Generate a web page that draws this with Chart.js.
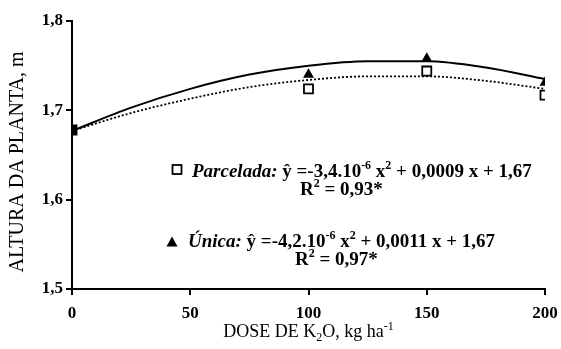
<!DOCTYPE html>
<html>
<head>
<meta charset="utf-8">
<script src="https://cdn.jsdelivr.net/npm/chart.js@4.4.1/dist/chart.umd.min.js"></script>
<style>
  html, body { margin: 0; padding: 0; background: #fff; }
</style>
</head>
<body>
<canvas id="chart" width="561" height="349"></canvas>
<script>
// observed means
const doses = [0, 100, 150, 200];
const parcelada = [1.678, 1.724, 1.744, 1.717];
const unica = [1.678, 1.740, 1.758, 1.731];

// regression curves
const fitDoses = [0, 25, 50, 75, 100, 125, 150, 175, 200];
const fitParcelada = [1.677, 1.697, 1.713, 1.726, 1.734, 1.738, 1.738, 1.733, 1.724];
const fitUnica = [1.677, 1.703, 1.724, 1.740, 1.750, 1.755, 1.755, 1.748, 1.735];

const xTicks = [0, 50, 100, 150, 200];
const yTicks = [1.5, 1.6, 1.7, 1.8];

const SERIF = '"Liberation Serif", "Times New Roman", serif';

const toXY = (xs, ys) => xs.map((x, i) => ({ x, y: ys[i] }));

// text runs: s = font style, sup/sub = small raised/lowered
const eqParcelada = [
  { t: 'Parcelada:', s: 'italic bold' },
  { t: ' ŷ =-3,4.10', s: 'bold' }, { t: '-6', s: 'bold', sup: true },
  { t: ' x', s: 'bold' }, { t: '2', s: 'bold', sup: true },
  { t: ' + 0,0009 x + 1,67', s: 'bold' }
];
const r2Parcelada = [
  { t: 'R', s: 'bold' }, { t: '2', s: 'bold', sup: true }, { t: ' = 0,93*', s: 'bold' }
];
const eqUnica = [
  { t: 'Única:', s: 'italic bold' },
  { t: ' ŷ =-4,2.10', s: 'bold' }, { t: '-6', s: 'bold', sup: true },
  { t: ' x', s: 'bold' }, { t: '2', s: 'bold', sup: true },
  { t: ' + 0,0011 x + 1,67', s: 'bold' }
];
const r2Unica = [
  { t: 'R', s: 'bold' }, { t: '2', s: 'bold', sup: true }, { t: ' = 0,97*', s: 'bold' }
];
const xTitle = [
  { t: 'DOSE DE K', s: '' }, { t: '2', s: '', sub: true },
  { t: 'O, kg ha', s: '' }, { t: '-1', s: '', sup: true }
];
const yTitle = 'ALTURA DA PLANTA, m';

function runsWidth(ctx, runs, size) {
  let w = 0;
  runs.forEach(r => {
    ctx.font = `${r.s} ${r.sup || r.sub ? Math.round(size * 0.65) : size}px ${SERIF}`;
    w += ctx.measureText(r.t).width;
  });
  return w;
}

function drawRuns(ctx, runs, x, y, size) {
  runs.forEach(r => {
    const small = r.sup || r.sub;
    ctx.font = `${r.s} ${small ? Math.round(size * 0.65) : size}px ${SERIF}`;
    const dy = r.sup ? -size * 0.4 : r.sub ? size * 0.2 : 0;
    ctx.fillText(r.t, x, y + dy);
    x += ctx.measureText(r.t).width;
  });
}

const textPlugin = {
  id: 'texts',
  afterDraw(chart) {
    const ctx = chart.ctx;
    const area = chart.chartArea;
    ctx.save();
    ctx.fillStyle = '#000';
    ctx.textBaseline = 'alphabetic';
    ctx.textAlign = 'left';

    // legend icons
    ctx.lineWidth = 1.8;
    ctx.strokeStyle = '#000';
    ctx.fillStyle = '#fff';
    ctx.fillRect(172.5, 165, 9, 9);
    ctx.strokeRect(172.5, 165, 9, 9);
    ctx.fillStyle = '#000';
    ctx.beginPath();
    ctx.moveTo(172, 236.5);
    ctx.lineTo(177.5, 246.5);
    ctx.lineTo(166.5, 246.5);
    ctx.closePath();
    ctx.fill();

    drawRuns(ctx, eqParcelada, 192, 177, 19);
    drawRuns(ctx, r2Parcelada, 300, 195, 19);
    drawRuns(ctx, eqUnica, 188, 247, 19);
    drawRuns(ctx, r2Unica, 295, 265, 19);

    // axis titles
    const xw = runsWidth(ctx, xTitle, 18);
    drawRuns(ctx, xTitle, (area.left + area.right) / 2 - xw / 2, 337, 18);

    ctx.translate(18, 162);
    ctx.rotate(-Math.PI / 2);
    ctx.font = `20px ${SERIF}`;
    ctx.textAlign = 'center';
    ctx.textBaseline = 'middle';
    ctx.fillText(yTitle, 0, 0);
    ctx.restore();
  }
};

const axisStyle = {
  border: { display: true, color: '#000', width: 2 },
  grid: { drawOnChartArea: false, drawTicks: true, tickLength: 6, color: '#000', lineWidth: 2 },
  ticks: { color: '#000', font: { family: SERIF, size: 17, weight: 'bold' } }
};

new Chart(document.getElementById('chart'), {
  type: 'scatter',
  data: {
    datasets: [
      {
        label: 'Parcelada',
        data: toXY(doses, parcelada),
        showLine: false,
        pointStyle: 'rect',
        pointRadius: 6.4,
        pointHoverRadius: 6.4,
        pointBorderWidth: 1.8,
        pointBorderColor: '#000',
        pointBackgroundColor: ['#000', '#fff', '#fff', '#fff'],
        order: 1
      },
      {
        label: 'Única',
        data: toXY(doses, unica),
        showLine: false,
        pointStyle: 'triangle',
        pointRadius: 6.3,
        pointHoverRadius: 6.3,
        pointBorderWidth: 0,
        pointBackgroundColor: '#000',
        order: 2
      },
      {
        label: 'Ajuste Parcelada',
        data: toXY(fitDoses, fitParcelada),
        showLine: true,
        pointRadius: 0,
        borderColor: '#000',
        borderWidth: 1.8,
        borderDash: [2, 2],
        cubicInterpolationMode: 'monotone',
        order: 3
      },
      {
        label: 'Ajuste Única',
        data: toXY(fitDoses, fitUnica),
        showLine: true,
        pointRadius: 0,
        borderColor: '#000',
        borderWidth: 2,
        cubicInterpolationMode: 'monotone',
        order: 4
      }
    ]
  },
  options: {
    responsive: false,
    animation: false,
    layout: { padding: { top: 21, right: 16, bottom: 0, left: 0 } },
    plugins: {
      legend: { display: false },
      tooltip: { enabled: false }
    },
    scales: {
      x: {
        ...axisStyle,
        type: 'linear',
        min: 0,
        max: 200,
        afterFit: s => { s.height = 60; s.paddingLeft = 0; s.paddingRight = 0; },
        afterBuildTicks: s => { s.ticks = xTicks.map(v => ({ value: v })); },
        ticks: { ...axisStyle.ticks, padding: 8 }
      },
      y: {
        ...axisStyle,
        min: 1.5,
        max: 1.8,
        afterFit: s => { s.width = 72; s.paddingTop = 0; s.paddingBottom = 0; },
        afterBuildTicks: s => { s.ticks = yTicks.map(v => ({ value: v })); },
        ticks: {
          ...axisStyle.ticks,
          padding: 3,
          callback: v => v.toFixed(1).replace('.', ',')
        }
      }
    }
  },
  plugins: [textPlugin]
});
</script>
</body>
</html>
